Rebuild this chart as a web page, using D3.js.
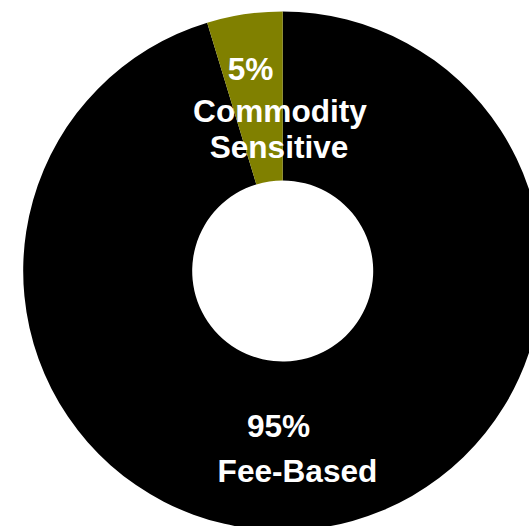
<!DOCTYPE html>
<html>
<head>
<meta charset="utf-8">
<script src="https://cdn.jsdelivr.net/npm/d3@7"></script>
<style>
  body { margin: 0; background: #fff; overflow: hidden; }
  text { font-family: Arial, "Liberation Sans", sans-serif; font-weight: bold; fill: #fff; }
</style>
</head>
<body>
<div id="chart"></div>
<script>
// data
var categories = ["Fee-Based", "Commodity Sensitive"];
var shares = [95.3, 4.7];
var pctLabels = ["95%", "5%"];
var colors = ["#000000", "#808000"];

var width = 529,
    height = 526;

var cx = 282.7, cy = 271,
    outerR = 259.5, innerR = 90.5;

var svg = d3.select("#chart")
    .append("svg")
    .attr("width", width)
    .attr("height", height);

var g = svg.append("g")
    .attr("transform", "translate(" + cx + "," + cy + ")");

var pie = d3.pie().sort(null).value(function(d) { return d; });
var arc = d3.arc().innerRadius(innerR).outerRadius(outerR);

var slices = pie(shares);

g.selectAll("path")
    .data(slices)
    .enter()
    .append("path")
    .attr("d", arc)
    .attr("fill", function(d, i) { return colors[i]; });

// labels (placed like the original text boxes)
var fs = 31.6;

// commodity slice
svg.append("text")
    .attr("x", 250.5).attr("y", 80)
    .attr("text-anchor", "middle")
    .style("font-size", fs + "px")
    .text(pctLabels[1]);
svg.append("text")
    .attr("x", 280).attr("y", 122)
    .attr("text-anchor", "middle")
    .style("font-size", fs + "px")
    .text(categories[1].split(" ")[0]);
svg.append("text")
    .attr("x", 279).attr("y", 158)
    .attr("text-anchor", "middle")
    .style("font-size", fs + "px")
    .text(categories[1].split(" ")[1]);

// fee-based slice
svg.append("text")
    .attr("x", 278.5).attr("y", 437)
    .attr("text-anchor", "middle")
    .style("font-size", fs + "px")
    .text(pctLabels[0]);
svg.append("text")
    .attr("x", 297.5).attr("y", 482)
    .attr("text-anchor", "middle")
    .style("font-size", fs + "px")
    .text(categories[0]);
</script>
</body>
</html>
